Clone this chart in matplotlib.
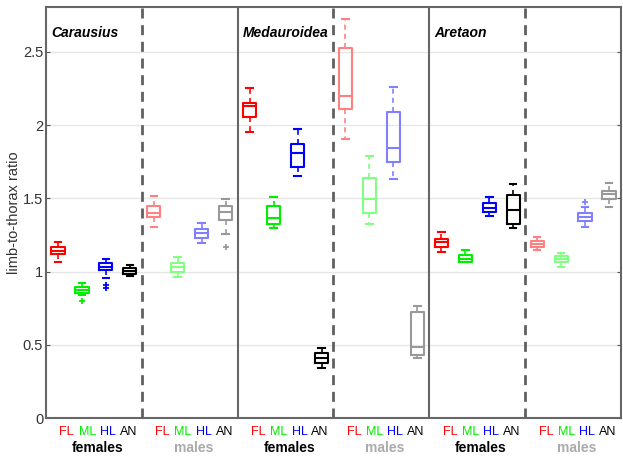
import numpy as np
import matplotlib
matplotlib.use('Agg')
import matplotlib.pyplot as plt

plt.rcParams['font.family'] = ['Liberation Sans', 'DejaVu Sans']

genera = ['Carausius', 'Medauroidea', 'Aretaon']
sexes = ['females', 'males']
legs = ['FL', 'ML', 'HL', 'AN']

# box statistics, order: genus -> sex -> leg
med = [1.143, 0.874, 1.034, 1.006, 1.402, 1.029, 1.261, 1.409,
       2.133, 1.364, 1.812, 0.412, 2.202, 1.496, 1.842, 0.487,
       1.204, 1.084, 1.432, 1.421, 1.189, 1.086, 1.371, 1.528]
q1 = [1.118, 0.852, 1.011, 0.984, 1.371, 0.999, 1.227, 1.352,
      2.058, 1.323, 1.712, 0.374, 2.108, 1.398, 1.751, 0.430,
      1.170, 1.068, 1.409, 1.325, 1.166, 1.064, 1.346, 1.494]
q3 = [1.166, 0.893, 1.057, 1.022, 1.450, 1.057, 1.289, 1.450,
      2.154, 1.450, 1.870, 0.446, 2.525, 1.641, 2.088, 0.722,
      1.223, 1.113, 1.471, 1.523, 1.209, 1.107, 1.398, 1.551]
whislo = [1.064, 0.838, 0.954, 0.972, 1.307, 0.961, 1.193, 1.255,
          1.956, 1.298, 1.653, 0.339, 1.904, 1.325, 1.633, 0.408,
          1.134, 1.066, 1.380, 1.296, 1.148, 1.034, 1.307, 1.443]
whishi = [1.204, 0.920, 1.086, 1.045, 1.516, 1.102, 1.334, 1.494,
          2.252, 1.508, 1.974, 0.476, 2.725, 1.790, 2.259, 0.767,
          1.273, 1.148, 1.512, 1.596, 1.238, 1.125, 1.439, 1.607]
fliers = [[], [0.80], [0.908, 0.886], [], [], [], [], [1.166],
          [], [], [], [], [], [], [], [],
          [], [], [], [], [], [], [1.478], []]

yticks = [0, 0.5, 1, 1.5, 2, 2.5]
ytick_labels = ['0', '0.5', '1', '1.5', '2', '2.5']

female_cols = ['#ff0000', '#00ee00', '#0000ff', '#000000']
male_cols = ['#ff8080', '#80ff80', '#8080ff', '#999999']
label_cols = ['#ff0000', '#00ee00', '#0000ff', '#000000']
sex_label_cols = ['#000000', '#aaaaaa']

fig = plt.figure(figsize=(6.23, 4.58), dpi=100)
ax = fig.add_axes([0.0738, 0.0873, 0.9230, 0.8974])

for i in range(len(med)):
    sex = (i // 4) % 2
    col = (female_cols if sex == 0 else male_cols)[i % 4]
    st = dict(med=med[i], q1=q1[i], q3=q3[i], whislo=whislo[i],
              whishi=whishi[i], fliers=fliers[i])
    ax.bxp([st], positions=[i + 1], widths=0.55, showfliers=True,
           boxprops=dict(color=col, lw=1.5),
           medianprops=dict(color=col, lw=1.5),
           whiskerprops=dict(color=col, lw=1.2, linestyle=(0, (3, 2.5))),
           capprops=dict(color=col, lw=1.5),
           flierprops=dict(marker='+', markeredgecolor=col, markersize=5,
                           markeredgewidth=1.3, linestyle='none'))

# panel separators
for g in range(1, 3):
    ax.axvline(8 * g + 0.5, color='#666666', lw=1.5)
for g in range(3):
    ax.axvline(8 * g + 4.5, color='#606060', lw=2, linestyle=(0, (3.6, 2.4)))

ax.set_xlim(0.5, 24.5)
ax.set_ylim(0, 2.807)
ax.set_yticks(yticks)
ax.set_yticklabels(ytick_labels, fontsize=10.5, color='#333333')
ax.set_xticks([])
ax.yaxis.grid(True, color='#e6e6e6', lw=1)
ax.set_axisbelow(True)
ax.tick_params(axis='y', direction='in', length=3, pad=2, right=True, color='#555555')
for s in ax.spines.values():
    s.set_color('#666666')
    s.set_linewidth(1.5)
ax.set_ylabel('limb-to-thorax ratio', fontsize=10.5, color='#333333')
ax.yaxis.set_label_coords(-0.043, 0.5)

# genus names
for g, name in enumerate(genera):
    ax.text(8 * g + 0.71, 2.63, name, fontsize=10, fontweight='bold',
            fontstyle='italic', ha='left', va='center')

# x labels
tr = ax.get_xaxis_transform()
for g in range(3):
    for s in range(2):
        c = 8 * g + 4 * s + 2.5 + 0.15
        for k, leg in enumerate(legs):
            ax.text(c + (k - 1.5) * 0.86, -0.034, leg, transform=tr,
                    color=label_cols[k], fontsize=9, ha='center', va='center')
        ax.text(c, -0.073, sexes[s], transform=tr, color=sex_label_cols[s],
                fontsize=10, fontweight='bold', ha='center', va='center')

fig.savefig('out.png', dpi=100)
